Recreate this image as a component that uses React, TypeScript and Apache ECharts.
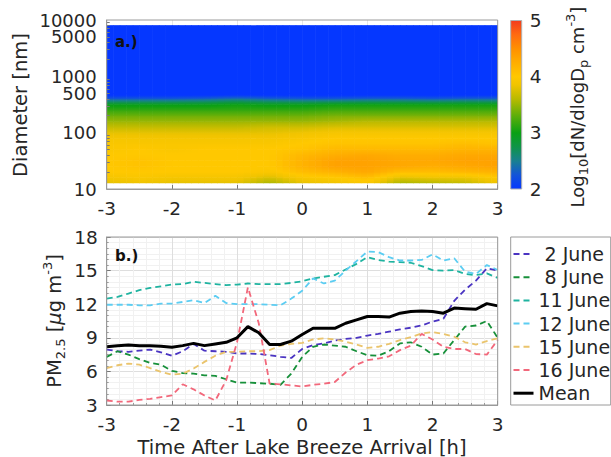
import React, { useEffect, useRef } from "react";
import * as echarts from "echarts";

// ---------------- data ----------------
const timeMinutes = [-180, -170, -160, -150, -140, -130, -120, -110, -100, -90, -80, -70, -60, -50, -40, -30, -20, -10, 0, 10, 20, 30, 40, 50, 60, 70, 80, 90, 100, 110, 120, 130, 140, 150, 160, 170, 180];

const june2 = [7.95, 7.8, 7.75, 7.85, 7.95, 7.7, 7.4, 7.8, 8.45, 7.85, 7.8, 7.75, 7.6, 7.6, 7.55, 7.45, 7.3, 7.2, 8.0, 8.35, 8.5, 8.75, 8.9, 9.0, 9.2, 9.35, 9.55, 9.75, 9.9, 10.1, 10.45, 10.7, 12.3, 13.3, 14.1, 15.2, 15.0];
const june8 = [7.3, 7.8, 7.5, 7.1, 6.75, 6.6, 6.05, 5.85, 5.8, 5.65, 5.6, 5.3, 5.0, 5.0, 4.95, 4.9, 4.8, 5.8, 7.3, 8.2, 8.4, 8.3, 8.2, 7.8, 7.45, 7.4, 7.8, 8.5, 8.6, 8.2, 7.5, 7.6, 8.8, 10.0, 10.1, 10.5, 9.0];
const june11 = [12.5, 12.65, 12.95, 13.25, 13.45, 13.6, 13.75, 13.8, 14.0, 13.9, 13.8, 13.7, 13.75, 13.85, 13.8, 13.8, 13.8, 13.9, 14.05, 14.3, 14.45, 14.6, 15.1, 15.6, 16.2, 15.95, 15.8, 15.75, 15.7, 15.4, 15.05, 15.0, 15.05, 14.7, 14.6, 14.75, 14.35];
const june12 = [11.95, 11.95, 11.95, 11.9, 11.9, 12.05, 12.05, 12.2, 12.35, 12.1, 12.75, 12.1, 12.0, 12.0, 12.0, 11.95, 11.9, 12.5, 13.2, 14.3, 13.85, 14.1, 15.0, 15.85, 16.7, 16.65, 16.2, 15.9, 15.9, 15.95, 16.45, 15.9, 16.1, 14.9, 14.7, 15.5, 15.05];
const june15 = [6.3, 6.55, 6.7, 6.6, 6.3, 5.95, 5.7, 5.8, 6.25, 6.85, 7.4, 7.75, 7.75, 7.8, 7.8, 7.9, 8.3, 8.45, 8.55, 8.85, 8.95, 8.85, 8.65, 8.4, 8.1, 8.2, 8.45, 8.8, 9.05, 9.4, 9.5, 9.35, 9.1, 8.6, 8.4, 8.7, 8.95];
const june16 = [3.4, 3.3, 3.3, 3.45, 3.55, 3.7, 3.85, 4.85, 4.4, 3.85, 3.4, 5.2, 8.6, 13.5, 10.3, 4.9, 4.85, 4.75, 4.65, 4.8, 4.9, 5.05, 5.9, 6.6, 7.0, 7.15, 7.35, 7.9, 8.3, 9.35, 8.85, 8.2, 8.0, 8.0, 7.55, 7.5, 8.8];
const meanPM = [8.2, 8.3, 8.35, 8.3, 8.3, 8.25, 8.15, 8.3, 8.5, 8.3, 8.45, 8.6, 9.0, 10.0, 9.45, 8.4, 8.4, 8.7, 9.3, 9.85, 9.85, 9.85, 10.3, 10.6, 10.9, 10.9, 10.85, 11.2, 11.35, 11.4, 11.35, 11.2, 11.65, 11.6, 11.55, 12.05, 11.85];

const seriesNames = ["2 June", "8 June", "11 June", "12 June", "15 June", "16 June", "Mean"];
const seriesValues = [june2, june8, june11, june12, june15, june16, meanPM];

// size distribution (log10 dN/dlogDp) : rows = diameters (nm), columns = hours
const heatTimes = [-3, -2.5, -2, -1.5, -1, -0.5, 0, 0.5, 1, 1.5, 2, 2.5, 3];
const heatDiameters = [12.8, 16, 20, 25, 32, 40, 50, 63, 79, 100, 126, 158, 200, 251, 316, 398, 501, 8000];
const heatValues = [
  [3.8, 3.85, 3.8, 3.8, 3.8, 3.55, 3.8, 3.85, 3.95, 3.55, 3.6, 3.65, 3.85],
  [3.9, 3.95, 3.9, 3.9, 3.9, 3.75, 3.95, 4.0, 4.1, 3.8, 3.85, 3.85, 4.0],
  [4.0, 4.0, 4.0, 4.0, 4.0, 3.95, 4.1, 4.2, 4.3, 4.1, 4.1, 4.15, 4.2],
  [4.0, 4.05, 4.0, 4.0, 4.0, 4.0, 4.2, 4.35, 4.35, 4.3, 4.25, 4.3, 4.35],
  [4.0, 4.05, 4.0, 4.0, 4.0, 4.0, 4.2, 4.35, 4.35, 4.3, 4.3, 4.35, 4.35],
  [4.0, 4.0, 4.0, 4.0, 4.0, 4.0, 4.15, 4.25, 4.3, 4.25, 4.25, 4.3, 4.3],
  [3.95, 4.0, 3.95, 4.0, 4.0, 4.0, 4.05, 4.15, 4.15, 4.15, 4.15, 4.2, 4.2],
  [3.95, 3.95, 3.95, 3.95, 3.95, 3.95, 4.0, 4.05, 4.05, 4.05, 4.05, 4.1, 4.05],
  [3.9, 3.9, 3.9, 3.9, 3.9, 3.9, 3.95, 4.0, 4.0, 4.0, 4.0, 4.0, 4.0],
  [3.8, 3.8, 3.8, 3.8, 3.8, 3.8, 3.85, 3.9, 3.9, 3.9, 3.9, 3.9, 3.9],
  [3.65, 3.65, 3.65, 3.65, 3.65, 3.7, 3.7, 3.75, 3.75, 3.75, 3.75, 3.75, 3.75],
  [3.5, 3.5, 3.5, 3.5, 3.5, 3.5, 3.5, 3.55, 3.6, 3.6, 3.6, 3.6, 3.6],
  [3.35, 3.35, 3.35, 3.35, 3.35, 3.35, 3.35, 3.4, 3.4, 3.4, 3.4, 3.4, 3.4],
  [3.15, 3.15, 3.15, 3.15, 3.15, 3.15, 3.15, 3.2, 3.2, 3.2, 3.2, 3.2, 3.2],
  [2.95, 2.95, 2.95, 2.95, 3.0, 2.95, 2.95, 3.0, 3.0, 3.0, 3.0, 3.0, 3.0],
  [2.3, 2.3, 2.3, 2.35, 2.45, 2.35, 2.3, 2.3, 2.35, 2.35, 2.3, 2.35, 2.35],
  [1.8, 1.8, 1.8, 1.8, 1.8, 1.8, 1.8, 1.8, 1.8, 1.8, 1.8, 1.8, 1.8],
  [1.8, 1.8, 1.8, 1.8, 1.8, 1.8, 1.8, 1.8, 1.8, 1.8, 1.8, 1.8, 1.8],
];

const diameterDecadeTicks = [10, 100, 1000, 10000];
const diameterHalfTicks = [500, 5000];
const diameterMinorTicks = [20, 30, 40, 50, 60, 70, 80, 90, 200, 300, 400, 500, 600, 700, 800, 900, 2000, 3000, 4000, 5000, 6000, 7000, 8000, 9000];
const colorTicks = [2, 3, 4, 5];

// ---------------- styles ----------------
const FONT = "DejaVu Sans";
const TXT = "#262626";
const BOX = "#9a9a9a";
const lineColors = ["#4a34c2", "#17903a", "#1fb3a0", "#5ccdf2", "#eac46c", "#f2687b", "#000000"];

const CMAP: [number, string][] = [
  [2.0, "#0537ff"],
  [2.25, "#1254d8"],
  [2.5, "#188090"],
  [2.75, "#0f9448"],
  [3.0, "#0aa014"],
  [3.3, "#5cae0a"],
  [3.6, "#b8ba00"],
  [3.85, "#f0c400"],
  [4.0, "#ffc800"],
  [4.3, "#ffa800"],
  [4.5, "#ff9000"],
  [4.75, "#ff6a10"],
  [5.0, "#f33c1c"],
];

function hexRgb(h: string) {
  return [parseInt(h.slice(1, 3), 16), parseInt(h.slice(3, 5), 16), parseInt(h.slice(5, 7), 16)];
}
function colorAt(v: number) {
  if (v <= CMAP[0][0]) return CMAP[0][1];
  if (v >= CMAP[CMAP.length - 1][0]) return CMAP[CMAP.length - 1][1];
  for (let i = 0; i < CMAP.length - 1; i++) {
    const [a, ca] = CMAP[i];
    const [b, cb] = CMAP[i + 1];
    if (v >= a && v <= b) {
      const f = (v - a) / (b - a);
      const A = hexRgb(ca), B = hexRgb(cb);
      const c = A.map((x, k) => Math.round(x + (B[k] - x) * f));
      return `rgb(${c[0]},${c[1]},${c[2]})`;
    }
  }
  return CMAP[0][1];
}

const G0 = { left: 106.7, top: 20, width: 391, height: 169 };
const G1 = { left: 106.7, top: 237, width: 391, height: 168 };
const G2 = { left: 510.7, top: 20.5, width: 11, height: 168.5 };

function buildOption() {
  const nRows = heatDiameters.length;
  const nCols = heatTimes.length;
  const heatData: number[][] = [];
  for (let r = 0; r < nRows; r++)
    for (let c = 0; c < nCols; c++)
      heatData.push([heatTimes[c], Math.log10(heatDiameters[r]), heatValues[r][c], r, c]);

  const NS = 5;
  const heatRender = (params: any, api: any) => {
    const r = api.value(3);
    const c = api.value(4);
    if (r >= nRows - 1 || c >= nCols - 1) return null;
    const t0 = heatTimes[c], t1 = heatTimes[c + 1];
    const y0 = Math.log10(heatDiameters[r]), y1 = Math.log10(heatDiameters[r + 1]);
    const v00 = heatValues[r][c], v01 = heatValues[r][c + 1];
    const v10 = heatValues[r + 1][c], v11 = heatValues[r + 1][c + 1];
    const children: any[] = [];
    for (let k = 0; k < NS; k++) {
      const fa = k / NS, fb = (k + 1) / NS, fm = (k + 0.5) / NS;
      const p0 = api.coord([t0 + (t1 - t0) * fa, y0]);
      const p1 = api.coord([t0 + (t1 - t0) * fb, y1]);
      const vb = v00 + (v01 - v00) * fm;
      const vt = v10 + (v11 - v10) * fm;
      const stops = [];
      for (let s = 0; s <= 6; s++) {
        const f = s / 6;
        stops.push({ offset: f, color: colorAt(vb + (vt - vb) * f) });
      }
      children.push({
        type: "rect",
        shape: { x: p0[0], y: p1[1] - 0.3, width: p1[0] - p0[0] + 0.6, height: p0[1] - p1[1] + 0.6 },
        style: { fill: { type: "linear", x: 0, y: 1, x2: 0, y2: 0, colorStops: stops }, stroke: null },
      });
    }
    return { type: "group", children };
  };

  const cbRender = (params: any, api: any) => {
    const lo = api.value(1), hi = api.value(2);
    const p0 = api.coord([0, lo]);
    const p1 = api.coord([1, hi]);
    return {
      type: "rect",
      shape: { x: p0[0], y: p1[1], width: p1[0] - p0[0], height: p0[1] - p1[1] },
      style: {
        fill: {
          type: "linear", x: 0, y: 1, x2: 0, y2: 0,
          colorStops: CMAP.map(([v, col]) => ({ offset: (v - lo) / (hi - lo), color: col })),
        },
        stroke: "#b0b0b0",
        lineWidth: 1,
      },
    };
  };

  const tickLabel = { fontSize: 18.5, color: TXT, fontFamily: FONT, showMinLabel: true, showMaxLabel: true };

  const lineSeries = seriesNames.map((name, si) => ({
    name,
    type: "line",
    xAxisIndex: 1,
    yAxisIndex: 1,
    symbol: "none",
    data: timeMinutes.map((m, i) => [m / 60, seriesValues[si][i]]),
    lineStyle: name === "Mean"
      ? { color: lineColors[si], width: 3, type: "solid" }
      : { color: lineColors[si], width: 1.8, type: [6, 4] },
    itemStyle: { color: lineColors[si] },
    z: name === "Mean" ? 4 : 3,
    silent: true,
  }));

  const richMain = { fontSize: 19.5, fontFamily: FONT, fill: TXT, lineHeight: 26 };
  const richSub = { fontSize: 13, fontFamily: FONT, fill: TXT, lineHeight: 13, verticalAlign: "bottom" };
  const richSup = { fontSize: 13, fontFamily: FONT, fill: TXT, lineHeight: 13, verticalAlign: "top" };
  const axisLine = { show: true, onZero: false, lineStyle: { color: BOX } };
  const diamFormatter = (v: number) => String(Math.round(Math.pow(10, v)));

  return {
    animation: false,
    textStyle: { fontFamily: FONT },
    grid: [
      { ...G0, containLabel: false },
      { ...G1, containLabel: false },
      { ...G2, containLabel: false },
    ],
    xAxis: [
      {
        gridIndex: 0, type: "value", min: -3, max: 3, interval: 1,
        axisLabel: { ...tickLabel, margin: 10 },
        axisLine,
        axisTick: { show: true, inside: true, length: 4, lineStyle: { color: "#777" } },
        splitLine: { show: true, lineStyle: { color: "#e6e6e6" } },
      },
      {
        gridIndex: 1, type: "value", min: -3, max: 3, interval: 1,
        axisLabel: { ...tickLabel, margin: 10 },
        axisLine,
        axisTick: { show: true, inside: true, length: 4, lineStyle: { color: "#777" } },
        minorTick: { show: true, splitNumber: 5, length: 2, lineStyle: { color: "#999" } },
        splitLine: { show: true, lineStyle: { color: "#dedede" } },
        minorSplitLine: { show: true, lineStyle: { color: "#f1f1f1" } },
      },
      { gridIndex: 2, type: "value", min: 0, max: 1, show: false },
    ],
    yAxis: [
      {
        gridIndex: 0, type: "value", min: 1, max: 4, z: 10, position: "left", offset: 0,
        axisLabel: {
          ...tickLabel, fontSize: 18, margin: 10,
          customValues: diameterDecadeTicks.map((d) => Math.log10(d)),
          formatter: diamFormatter,
        },
        axisLine,
        axisTick: {
          show: true, inside: true, length: 3, lineStyle: { color: "#777" },
          customValues: diameterMinorTicks.map((d) => Math.log10(d)),
        },
        splitLine: { show: false },
      },
      {
        gridIndex: 1, type: "value", min: 3, max: 18, interval: 3,
        axisLabel: { ...tickLabel, margin: 9 },
        axisLine,
        axisTick: { show: true, inside: true, length: 4, lineStyle: { color: "#777" } },
        minorTick: { show: true, splitNumber: 6, length: 2, lineStyle: { color: "#999" } },
        splitLine: { show: true, lineStyle: { color: "#dedede" } },
        minorSplitLine: { show: true, lineStyle: { color: "#f1f1f1" } },
      },
      {
        gridIndex: 2, type: "value", position: "right", min: colorTicks[0], max: colorTicks[colorTicks.length - 1], interval: 1,
        axisLabel: { ...tickLabel, margin: 8 },
        axisLine: { show: false, onZero: false },
        axisTick: { show: false },
        splitLine: { show: false },
      },
      {
        gridIndex: 0, type: "value", min: 1, max: 4, position: "left", offset: 0, z: 10,
        axisLabel: {
          fontSize: 18, color: TXT, fontFamily: FONT, margin: 10,
          customValues: diameterHalfTicks.map((d) => Math.log10(d)),
          formatter: diamFormatter,
        },
        axisLine: { show: false, onZero: false },
        axisTick: { show: false },
        splitLine: { show: false },
      },
    ],
    legend: {
      orient: "vertical",
      left: 512,
      top: 244,
      padding: 0,
      itemGap: 3.2,
      itemWidth: 20,
      itemHeight: 14,
      selectedMode: false,
      itemStyle: { opacity: 0, borderWidth: 0 },
      textStyle: { fontSize: 19, color: TXT, fontFamily: FONT, lineHeight: 20 },
      formatter: (n: string) => (/^\d June$/.test(n) ? "\u00a0" + n : n),
      data: seriesNames.map((n) => (n === "Mean" ? { name: n, lineStyle: { width: 3 } } : { name: n })),
    },
    series: [
      {
        type: "custom",
        xAxisIndex: 0,
        yAxisIndex: 0,
        data: heatData,
        encode: { x: 0, y: 1 },
        renderItem: heatRender,
        clip: true,
        silent: true,
        z: 2,
      },
      {
        type: "custom",
        xAxisIndex: 2,
        yAxisIndex: 2,
        data: [[0, colorTicks[0], colorTicks[colorTicks.length - 1]]],
        encode: { x: 0, y: 1 },
        renderItem: cbRender,
        silent: true,
      },
      ...lineSeries,
    ],
    graphic: [
      { type: "rect", z: 100, silent: true, shape: { x: G0.left, y: G0.top, width: G0.width, height: G0.height }, style: { fill: null, stroke: BOX, lineWidth: 1 } },
      { type: "rect", z: 100, silent: true, shape: { x: G1.left, y: G1.top, width: G1.width, height: G1.height }, style: { fill: null, stroke: BOX, lineWidth: 1 } },
      { type: "rect", z: 100, silent: true, shape: { x: 510.7, y: 237, width: 100, height: 168 }, style: { fill: null, stroke: BOX, lineWidth: 1 } },
      { type: "text", z: 100, x: 115, y: 42, style: { text: "a.)", font: `bold 15px "${FONT}"`, fill: "#111", align: "left", verticalAlign: "middle" } },
      { type: "text", z: 100, x: 115, y: 256, style: { text: "b.)", font: `bold 15px "${FONT}"`, fill: "#111", align: "left", verticalAlign: "middle" } },
      { type: "text", z: 100, x: 20, y: 105, rotation: Math.PI / 2, style: { text: "Diameter [nm]", font: `19.5px "${FONT}"`, fill: TXT, align: "center", verticalAlign: "middle" } },
      { type: "text", z: 100, x: 302, y: 447, style: { text: "Time After Lake Breeze Arrival [h]", font: `19.5px "${FONT}"`, fill: TXT, align: "center", verticalAlign: "middle" } },
      {
        type: "text", z: 100, x: 54, y: 321, rotation: Math.PI / 2,
        style: {
          text: "{a|PM}{s|2.5}{a| [}{i|\u03bc}{a|g m}{p|-3}{a|]}",
          align: "center", verticalAlign: "middle",
          rich: { a: richMain, s: richSub, p: richSup, i: { ...richMain, fontStyle: "italic" } },
        },
      },
      {
        type: "text", z: 100, x: 577, y: 107, rotation: Math.PI / 2,
        style: {
          text: "{a|Log}{s|10}{a|[dN/dlogD}{s|p}{a| cm}{p|-3}{a|]}",
          align: "center", verticalAlign: "middle",
          rich: { a: { ...richMain, fontSize: 18 }, s: richSub, p: richSup },
        },
      },
    ],
  };
}

export default function App() {
  const ref = useRef<HTMLDivElement>(null);
  useEffect(() => {
    if (!ref.current) return;
    const chart = echarts.init(ref.current, null, { renderer: "svg" });
    chart.setOption(buildOption() as any);
    return () => chart.dispose();
  }, []);
  return <div ref={ref} style={{ position: "absolute", left: 0, top: 0, width: 611, height: 457 }} />;
}
